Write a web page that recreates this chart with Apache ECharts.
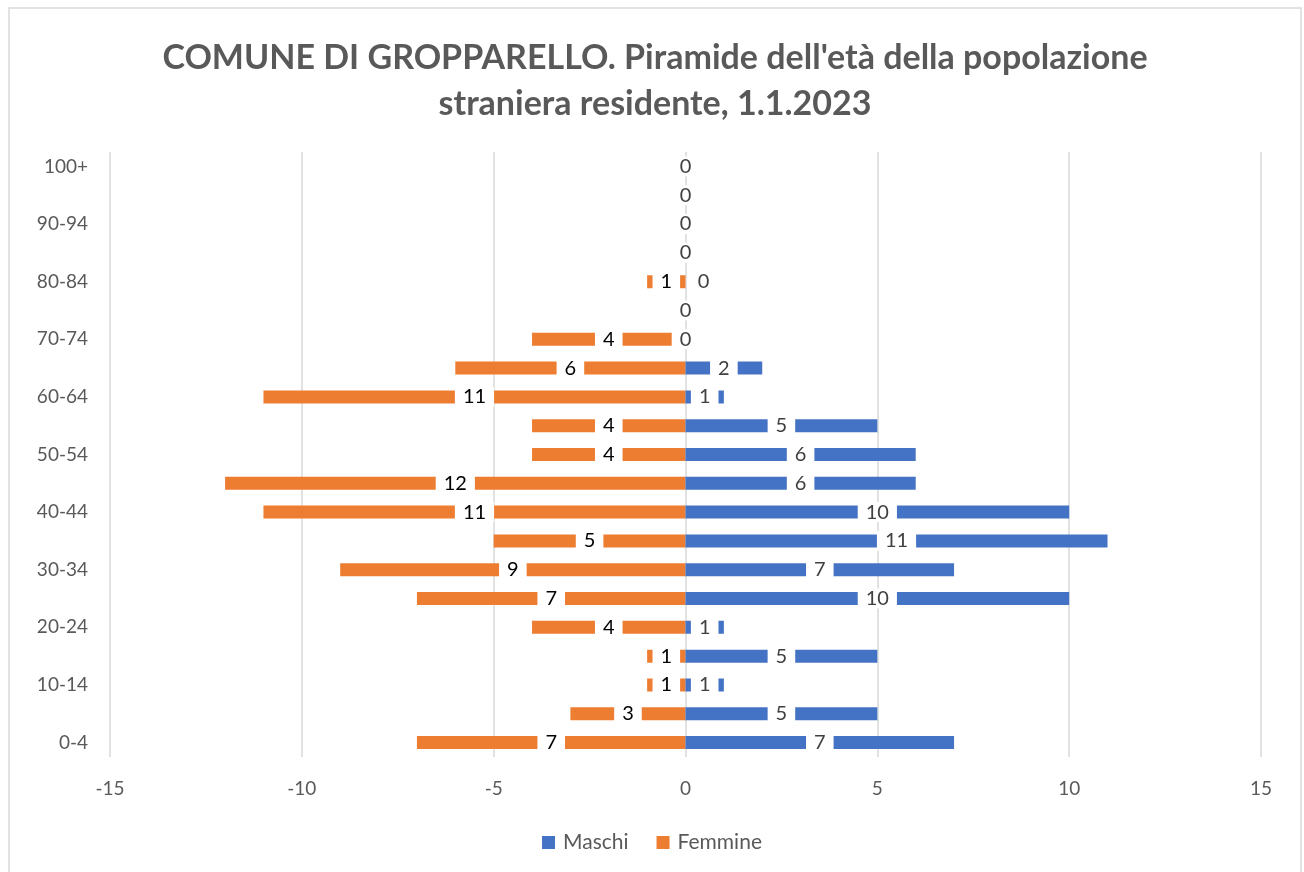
<!DOCTYPE html>
<html>
<head>
<meta charset="utf-8">
<script src="https://cdn.jsdelivr.net/npm/echarts@6/dist/echarts.min.js"></script>
<style>
    html, body { margin: 0; padding: 0; background: #fff; }
    #chart { width: 1304px; height: 872px; }
</style>
</head>
<body>
<div id="chart"></div>
<script>
    // classi d'età, dal basso verso l'alto
    const ageGroups = ['0-4', '5-9', '10-14', '15-19', '20-24', '25-29', '30-34', '35-39', '40-44', '45-49',
        '50-54', '55-59', '60-64', '65-69', '70-74', '75-79', '80-84', '85-89', '90-94', '95-99', '100+']
    const maschi = [7, 5, 1, 5, 1, 10, 7, 11, 10, 6, 6, 5, 1, 2, 0, 0, 0, 0, 0, 0, 0]
    const femmine = [7, 3, 1, 1, 4, 7, 9, 5, 11, 12, 4, 4, 11, 6, 4, 0, 1, 0, 0, 0, 0]
    const xTicks = [-15, -10, -5, 0, 5, 10, 15]

    const font = 'Lato, "Open Sans", sans-serif'
    const grey = '#595959'

    const labelBox = {
        show: true,
        position: 'inside',
        fontSize: 20,
        fontFamily: font,
        backgroundColor: '#fff',
        padding: [0, 8],
        lineHeight: 20
    }

    let chart = echarts.init(document.getElementById('chart'))
    chart.setOption({
        animation: false,
        graphic: [{
            type: 'rect',
            shape: {x: 9, y: 8, width: 1292, height: 880},
            style: {fill: 'none', stroke: '#d9d9d9', lineWidth: 1.5},
            silent: true
        }],
        title: {
            text: "COMUNE DI GROPPARELLO. Piramide dell'età della popolazione\nstraniera residente, 1.1.2023",
            left: 650,
            textAlign: 'center',
            top: 30,
            textStyle: {fontFamily: font, fontSize: 34, fontWeight: 'bold', color: grey, lineHeight: 46}
        },
        legend: {
            bottom: 14,
            left: 'center',
            itemWidth: 13,
            itemHeight: 13,
            itemGap: 28,
            icon: 'rect',
            textStyle: {fontFamily: font, fontSize: 21, color: grey, padding: [0, 0, 0, 3]},
            data: ['Maschi', 'Femmine']
        },
        grid: {left: 110, right: 43, top: 152, bottom: 115},
        xAxis: {
            type: 'value',
            min: xTicks[0],
            max: xTicks[xTicks.length - 1],
            interval: 5,
            axisLine: {show: false},
            axisTick: {show: false},
            splitLine: {lineStyle: {color: '#d9d9d9', width: 1.5}},
            axisLabel: {fontFamily: font, fontSize: 19, color: grey, margin: 22}
        },
        yAxis: {
            type: 'category',
            data: ageGroups,
            axisLine: {show: false},
            axisTick: {show: false},
            axisLabel: {interval: 1, fontFamily: font, fontSize: 19, color: grey, margin: 22}
        },
        series: [
            {
                name: 'Maschi',
                type: 'bar',
                barWidth: 13,
                barGap: '-100%',
                itemStyle: {color: '#4472c4'},
                z: 3,
                label: Object.assign({}, labelBox, {color: '#404040', formatter: p => Math.abs(p.value)}),
                data: maschi.map((v, i) => i === 16 ? {value: v, label: {offset: [18, 0]}} : v)
            },
            {
                name: 'Femmine',
                type: 'bar',
                barWidth: 13,
                itemStyle: {color: '#ed7d31'},
                z: 2,
                label: Object.assign({}, labelBox, {
                    color: '#000',
                    formatter: p => p.value === 0 ? '' : Math.abs(p.value)
                }),
                data: femmine.map(v => v === 0 ? 0 : -v)
            }
        ]
    })
</script>
</body>
</html>
